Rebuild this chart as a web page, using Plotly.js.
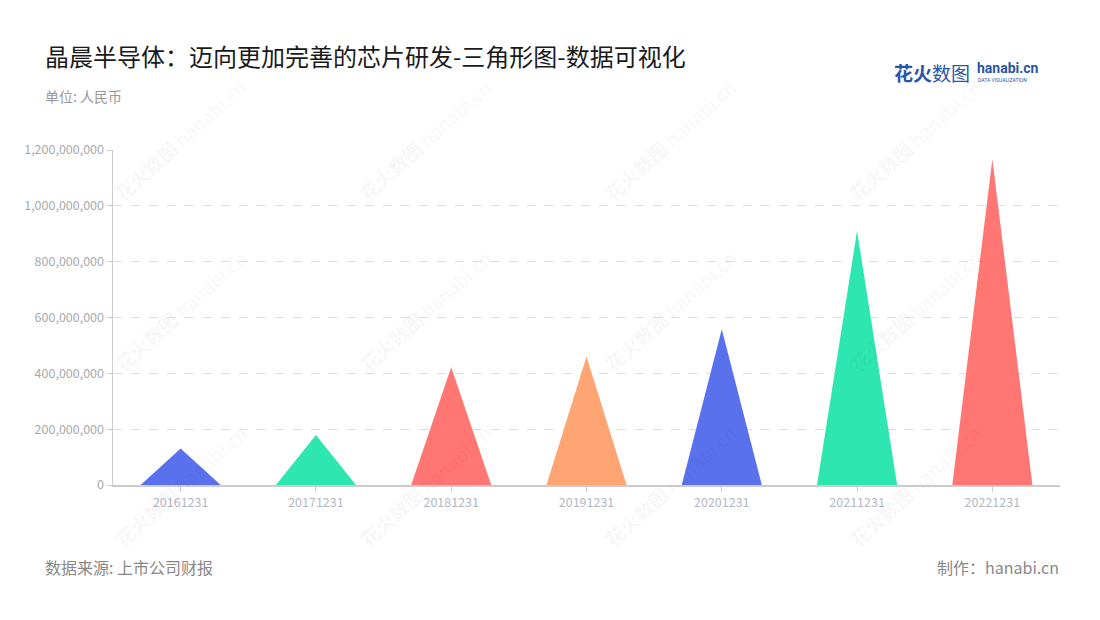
<!DOCTYPE html>
<html>
<head>
<meta charset="utf-8">
<script src="https://cdn.plot.ly/plotly-3.0.1.min.js"></script>
<style>html,body{margin:0;padding:0;background:#fff;}#chart{width:1100px;height:620px;}</style>
</head>
<body>
<div id="chart"></div>
<script>
const categories = ['20161231','20171231','20181231','20191231','20201231','20211231','20221231'];
const values = [131000000, 179000000, 422000000, 460000000, 558000000, 910000000, 1167000000];
const colors = ['#5A71EE','#2EE6B0','#FF7672','#FFA574','#5A71EE','#2EE6B0','#FF7672'];
const yTicks = [0, 200000000, 400000000, 600000000, 800000000, 1000000000, 1200000000];

const W = 1100, H = 620;
const M = {l: 113, r: 40, t: 150, b: 135};
const halfWidth = 0.296;

const traces = categories.map((c, i) => ({
  type: 'scatter',
  mode: 'lines',
  x: [i - halfWidth, i, i + halfWidth, i - halfWidth],
  y: [0, values[i], 0, 0],
  fill: 'toself',
  fillcolor: colors[i],
  line: {width: 0, color: colors[i]},
  hoverinfo: 'skip',
  showlegend: false
}));

const font = '"Noto Sans CJK SC", "Noto Sans", sans-serif';
const px = x => (x - M.l) / (W - M.l - M.r);
const py = y => (H - M.b - y) / (H - M.t - M.b);

const annotations = [];
// watermarks
const wmX = [180, 425, 670, 915];
const wmY = [140, 310, 485];
wmY.forEach(yy => wmX.forEach(xx => {
  annotations.push({
    xref: 'paper', yref: 'paper', x: px(xx), y: py(yy),
    text: '<b>花火数图</b> hanabi.cn', showarrow: false, textangle: -42,
    font: {family: font, size: 19, color: 'rgba(0,0,0,0.05)'},
    xanchor: 'center', yanchor: 'middle'
  });
}));
// title etc
annotations.push(
  {xref: 'paper', yref: 'paper', x: px(43), y: py(55), xanchor: 'left', yanchor: 'middle', showarrow: false,
   text: '晶晨半导体：迈向更加完善的芯片研发-三角形图-数据可视化', font: {family: font, size: 24, color: '#1a1a1a'}},
  {xref: 'paper', yref: 'paper', x: px(43), y: py(96), xanchor: 'left', yanchor: 'middle', showarrow: false,
   text: '单位: 人民币', font: {family: font, size: 14, color: '#999999'}},
  {xref: 'paper', yref: 'paper', x: px(43), y: py(567), xanchor: 'left', yanchor: 'middle', showarrow: false,
   text: '数据来源: 上市公司财报', font: {family: font, size: 16, color: '#888888'}},
  {xref: 'paper', yref: 'paper', x: px(1061), y: py(567), xanchor: 'right', yanchor: 'middle', showarrow: false,
   text: '制作：hanabi.cn', font: {family: font, size: 16, color: '#888888'}},
  {xref: 'paper', yref: 'paper', x: px(892), y: py(72), xanchor: 'left', yanchor: 'middle', showarrow: false,
   text: '<b>花火</b>数图', font: {family: font, size: 19, color: '#2B54A8'}},
  {xref: 'paper', yref: 'paper', x: px(975), y: py(68), xanchor: 'left', yanchor: 'middle', showarrow: false,
   text: '<b>hanabi.cn</b>', font: {family: 'Roboto, sans-serif', size: 14, color: '#2B54A8'}},
  {xref: 'paper', yref: 'paper', x: px(976), y: py(80), xanchor: 'left', yanchor: 'middle', showarrow: false,
   text: 'DATA VISUALIZATION', font: {family: 'Roboto, sans-serif', size: 5, color: '#2B54A8'}}
);

const layout = {
  width: W, height: H,
  margin: M,
  paper_bgcolor: '#ffffff', plot_bgcolor: '#ffffff',
  showlegend: false,
  font: {family: font},
  xaxis: {
    range: [-0.5, 6.5],
    tickmode: 'array', tickvals: categories.map((c, i) => i), ticktext: categories,
    showgrid: false, zeroline: false,
    showline: true, linecolor: '#cccccc', linewidth: 1.5,
    ticks: 'outside', ticklen: 5, tickcolor: '#cccccc', tickwidth: 1,
    tickfont: {family: font, size: 12.5, color: '#b4b8c4'},
    fixedrange: true
  },
  yaxis: {
    range: [0, 1200000000],
    tickmode: 'array', tickvals: yTicks,
    ticktext: yTicks.map(v => v.toLocaleString('en-US')),
    showgrid: true, gridcolor: '#dddddd', griddash: 'dash', gridwidth: 1,
    zeroline: false,
    showline: true, linecolor: '#cccccc', linewidth: 1.5,
    ticks: 'outside', ticklen: 5, tickcolor: '#cccccc',
    tickfont: {family: font, size: 12.5, color: '#aaaaaa'},
    fixedrange: true
  },
  annotations: annotations
};

Plotly.newPlot('chart', traces, layout, {displayModeBar: false, staticPlot: true});
</script>
</body>
</html>
